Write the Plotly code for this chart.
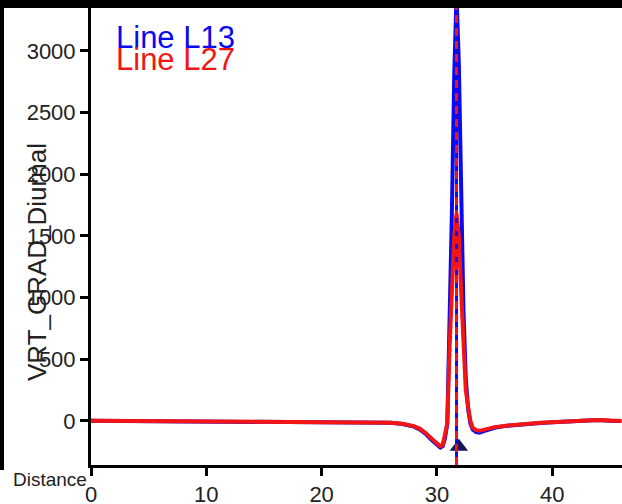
import plotly.graph_objects as go

# ---- data ----
distance = [0, 2, 4, 6, 8, 10, 12, 14, 16, 18, 20, 22, 24, 25, 26, 27, 27.5, 28, 28.5,
            29, 29.5, 30, 30.3, 30.5, 30.7, 30.9, 31.1, 31.3, 31.5, 31.7, 31.9, 32.1,
            32.3, 32.5, 32.7, 32.9, 33.1, 33.4, 33.7, 34.0, 34.5, 35, 36, 37, 38, 39,
            40, 41, 42, 43, 44, 45, 46]

line_l13 = [2, 1, 0, -1, 0, -2, -3, -2, -4, -3, -5, -6, -8, -10, -15, -24, -33, -46, -68,
            -102, -150, -195, -215, -205, -140, -20, 700, 1700, 2800, 3450, 2900, 1800,
            900, 350, 100, -20, -70, -90, -95, -85, -70, -55, -40, -30, -22, -16,
            -11, -8, -4, 3, 8, 2, 0]

line_l27 = [2, 1, 0, -1, 0, -2, -3, -2, -4, -3, -5, -6, -8, -10, -14, -22, -30, -42, -62,
            -95, -140, -185, -205, -195, -120, -20, 600, 1150, 1500, 1680, 1500, 1050,
            600, 250, 120, 0, -55, -75, -80, -72, -60, -50, -38, -28, -20, -15,
            -10, -8, -4, 3, 8, 2, 0]

peak_x = 31.7
marker_x = [31.9]
marker_y = [-210]

y_ticks = [0, 500, 1000, 1500, 2000, 2500, 3000]
x_ticks = [0, 10, 20, 30, 40]

legend_names = ["Line L13", "Line L27"]
blue = "rgb(10,10,240)"
red = "rgb(245,20,20)"

FONT = "Liberation Sans, Arial, sans-serif"

fig = go.Figure()
fig.add_trace(go.Scatter(x=distance, y=line_l13, mode="lines",
                         line=dict(color=blue, width=4), name=legend_names[0]))
fig.add_trace(go.Scatter(x=distance, y=line_l27, mode="lines",
                         line=dict(color=red, width=4), name=legend_names[1]))
fig.add_trace(go.Scatter(x=marker_x, y=marker_y, mode="markers",
                         marker=dict(symbol="triangle-up", size=16, color="#14145a"),
                         cliponaxis=False, showlegend=False))

W, H = 622, 504
ml, mr, mt, mb = 91, 0, 8, 39
pw, ph = W - ml - mr, H - mt - mb

def px_x(p):
    return (p - ml) / pw

def px_y(p):
    return (H - mb - p) / ph

annotations = [
    dict(text=legend_names[0], x=px_x(114), y=px_y(37), xref="paper", yref="paper",
         xanchor="left", yanchor="middle", showarrow=False,
         font=dict(family=FONT, size=31, color=blue)),
    dict(text=legend_names[1], x=px_x(114), y=px_y(60), xref="paper", yref="paper",
         xanchor="left", yanchor="middle", showarrow=False,
         font=dict(family=FONT, size=31, color=red)),
    dict(text="VRT_GRAD_Diurnal", x=px_x(37), y=px_y(262), xref="paper", yref="paper",
         xanchor="center", yanchor="middle", textangle=-90, showarrow=False,
         font=dict(family=FONT, size=26, color="#222")),
    dict(text="Distance", x=px_x(89), y=px_y(479), xref="paper", yref="paper",
         xanchor="right", yanchor="middle", showarrow=False,
         font=dict(family=FONT, size=19, color="#222")),
]

# outer frame of the original figure (top bar + left bar)
shapes = [
    dict(type="rect", xref="paper", yref="paper", x0=px_x(0), x1=px_x(W),
         y0=px_y(8), y1=px_y(0), fillcolor="black", line=dict(width=0), layer="above"),
    dict(type="rect", xref="paper", yref="paper", x0=px_x(0), x1=px_x(4),
         y0=px_y(470), y1=px_y(0), fillcolor="black", line=dict(width=0), layer="above"),
]

fig.update_layout(
    width=W, height=H,
    margin=dict(l=ml, r=mr, t=mt, b=mb, pad=0),
    paper_bgcolor="white", plot_bgcolor="white",
    showlegend=False,
    annotations=annotations,
    shapes=shapes,
    font=dict(family=FONT, size=22, color="#222"),
    xaxis=dict(range=[0, 46.05], tickvals=x_ticks, ticks="outside", ticklen=8,
               tickwidth=3, tickcolor="black", showline=True, linewidth=3,
               linecolor="black", showgrid=False, zeroline=False, automargin=False,
               tickfont=dict(family=FONT, size=22, color="#222")),
    # top frame bar drawn as the line of an overlaid top axis
    xaxis2=dict(overlaying="x", side="top", matches="x", showline=True, linewidth=8,
                linecolor="black", showticklabels=False, ticks="", showgrid=False,
                zeroline=False, automargin=False),
    yaxis=dict(range=[-357, 3348], tickvals=y_ticks, ticks="outside", ticklen=8,
               tickwidth=3, tickcolor="black", showline=True, linewidth=3,
               linecolor="black", showgrid=False, zeroline=False, automargin=False,
               tickfont=dict(family=FONT, size=22, color="#222")),
)

# vertical peak markers (added after layout shapes so they are kept)
fig.add_vline(x=peak_x, line=dict(color=blue, width=3))
fig.add_vline(x=peak_x, line=dict(color=red, width=3, dash="8px,5px"))

fig.write_html("out.html", config={"displayModeBar": False},
               post_script="document.body.style.margin='0';")
